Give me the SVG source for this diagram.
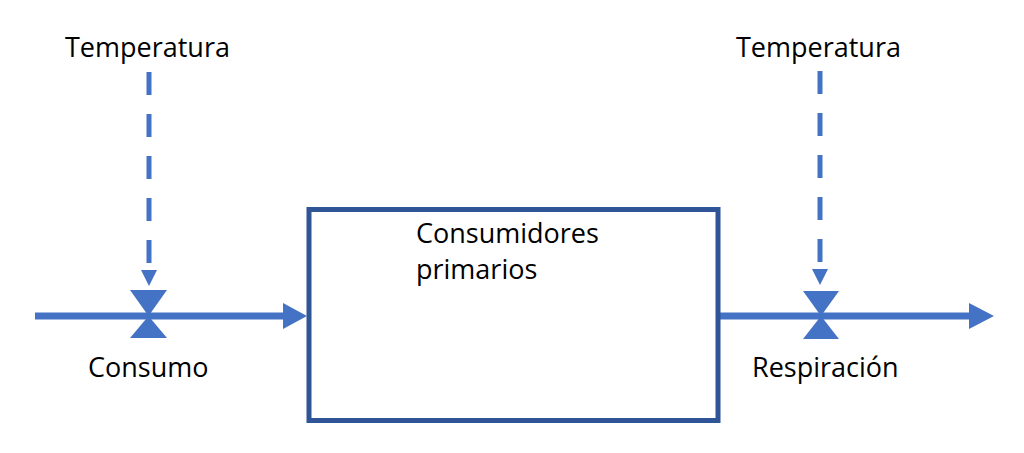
<svg xmlns="http://www.w3.org/2000/svg" width="1024" height="453" viewBox="0 0 1024 453">
<style>
.t{font-family:"Open Sans","Liberation Sans",sans-serif;font-size:27px;fill:#000}
.flow{stroke:#4472C4;stroke-width:7;fill:none}
.dash{stroke:#4472C4;stroke-width:5;fill:none;stroke-dasharray:23 19}
.fill{fill:#4472C4}
</style>
<rect width="1024" height="453" fill="#fff"/>
<g id="connectors">
<line class="flow" x1="35" y1="316" x2="286" y2="316"/>
<polygon class="fill" points="283,303 307,316 283,329"/>
<line class="flow" x1="720" y1="316" x2="972" y2="316"/>
<polygon class="fill" points="969,303 994,316 969,329"/>
<line class="dash" x1="149" y1="72" x2="149" y2="263"/>
<polygon class="fill" points="141,270 157,270 149,286"/>
<line class="dash" x1="820" y1="71" x2="820" y2="263"/>
<polygon class="fill" points="812,269 828,269 820,285"/>
</g>
<g id="valve-consumo">
<polygon class="fill" points="130,290 167,290 148.5,316"/>
<polygon class="fill" points="130,338 167,338 148.5,316"/>
<text class="t" x="88" y="377">Consumo</text>
</g>
<g id="valve-respiracion">
<polygon class="fill" points="803,291 839,291 821,316"/>
<polygon class="fill" points="803,339 839,339 821,316"/>
<text class="t" x="752" y="377">Respiración</text>
</g>
<g id="temp-left">
<text class="t" x="65" y="57">Temperatura</text>
</g>
<g id="temp-right">
<text class="t" x="736" y="57">Temperatura</text>
</g>
<g id="consumidores">
<rect x="309" y="209.5" width="409" height="211" fill="none" stroke="#2F5597" stroke-width="5"/>
<text class="t" x="416" y="243">Consumidores</text>
<text class="t" x="416" y="279">primarios</text>
</g>
</svg>
